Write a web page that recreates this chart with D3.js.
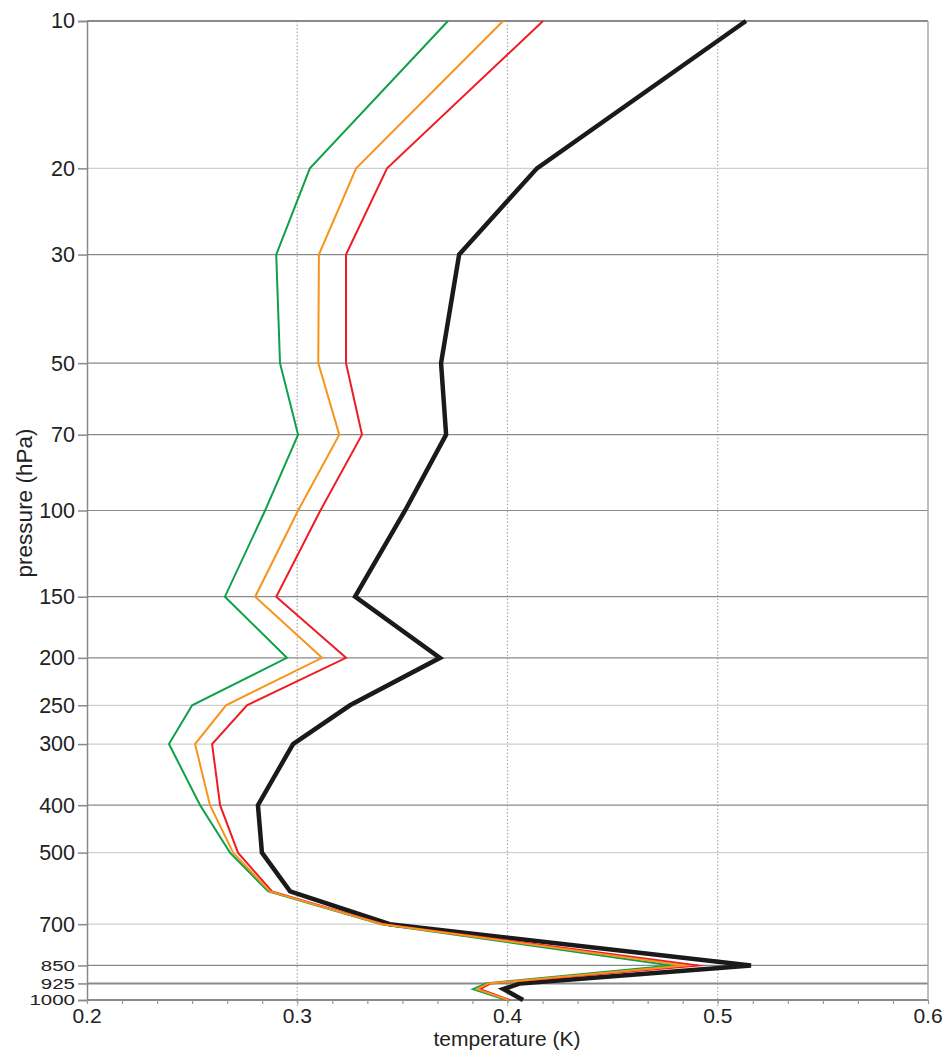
<!DOCTYPE html>
<html><head><meta charset="utf-8">
<script src="https://cdn.jsdelivr.net/npm/d3@7"></script>
<style>body{margin:0;background:#fff}svg{display:block}text{font-family:"Liberation Sans",Arial,sans-serif;fill:#222}</style>
</head><body><svg id="c" width="946" height="1051"></svg>
<script>
const levels = [10,20,30,50,70,100,150,200,250,300,400,500,600,700,850,925,950,1000];
const blackVals  = [0.5134,0.414,0.377,0.3684,0.3708,0.3513,0.3275,0.3679,0.3251,0.298,0.2813,0.2832,0.2966,0.344,0.5158,0.406,0.398,0.4074];
const redVals    = [0.4169,0.3427,0.3232,0.3232,0.3308,0.311,0.290,0.3232,0.2761,0.2595,0.2633,0.2718,0.288,0.341,0.4906,0.392,0.387,0.401];
const orangeVals = [0.3979,0.328,0.3103,0.310,0.320,0.3004,0.280,0.3118,0.2661,0.2514,0.2585,0.2695,0.287,0.3405,0.4844,0.391,0.3855,0.4005];
const greenVals  = [0.3717,0.306,0.290,0.2918,0.3004,0.2847,0.2656,0.2951,0.250,0.239,0.2538,0.268,0.2862,0.340,0.478,0.3898,0.3836,0.3995];
const yTickLabels = [10,20,30,50,70,100,150,200,250,300,400,500,700,850,925,1000];
const darkGrid = [10,30,50,70,100,150,200,400,850,925,1000];
const xTicks = [0.2,0.3,0.4,0.5,0.6];

const svg = d3.select("#c");
const L=87,R=928,T=21,B=1000;
const x = d3.scaleLinear().domain([0.2,0.6]).range([L,R]);
const y = d3.scaleLog().domain([10,1000]).range([T,B]);

svg.append("g").selectAll("line").data([0.3,0.4,0.5]).join("line")
  .attr("x1",d=>x(d)).attr("x2",d=>x(d)).attr("y1",T).attr("y2",B+8)
  .attr("stroke","#aaa").attr("stroke-width",1.2).attr("stroke-dasharray","1.5,2");

svg.append("g").selectAll("line").data(yTickLabels).join("line")
  .attr("x1",L).attr("x2",R).attr("y1",d=>y(d)).attr("y2",d=>y(d))
  .attr("stroke",d=>darkGrid.includes(d)?"#8a8a8a":"#cfcfcf")
  .attr("stroke-width",d=>(d===10||d===925||d===1000)?2:1.2);

svg.append("line").attr("x1",R).attr("x2",R).attr("y1",T).attr("y2",B)
  .attr("stroke","#aaa").attr("stroke-width",1.5);

const ya = d3.axisLeft(y).tickValues(yTickLabels).tickFormat(d3.format("d")).tickSize(9).tickPadding(3);
const gy = svg.append("g").attr("transform",`translate(${L},0)`).call(ya);
gy.select(".domain").attr("stroke","#888").attr("stroke-width",1.5);
gy.selectAll(".tick line").attr("stroke","#888").attr("stroke-width",1.5);
gy.selectAll(".tick text").attr("font-size",d=>(d>=850?20.5:21.5)).attr("fill","#222")
  .attr("transform",d=>(d>=850?"scale(1,0.74)":null))
  .style("font-family","Liberation Sans, Arial, sans-serif");

const minor = d3.range(0,25).map(i=>0.2+i/60);
const xa = d3.axisBottom(x).tickValues(minor).tickFormat("").tickSize(4);
const gx = svg.append("g").attr("transform",`translate(0,${B})`).call(xa);
gx.select(".domain").remove();
gx.selectAll(".tick line").attr("stroke","#999").attr("stroke-width",1.2);
svg.append("g").selectAll("text").data(xTicks).join("text")
  .attr("x",d=>x(d)).attr("y",1023).attr("text-anchor","middle").attr("font-size",21)
  .text(d=>d3.format(".1f")(d));

const line = vals => d3.line().x((d,i)=>x(vals[i])).y(d=>y(d))(levels);
const series = [
  {v:blackVals, c:"#1a1a1a", w:4.5},
  {v:greenVals, c:"#0ea04b", w:2},
  {v:redVals, c:"#ee1d25", w:2},
  {v:orangeVals, c:"#f7941d", w:2}
];
svg.append("g").selectAll("path").data(series).join("path")
  .attr("d",s=>line(s.v)).attr("fill","none").attr("stroke",s=>s.c)
  .attr("stroke-width",s=>s.w).attr("stroke-linejoin","miter").attr("stroke-miterlimit",10);

svg.append("text").attr("x",507).attr("y",1046).attr("text-anchor","middle").attr("font-size",21).text("temperature (K)");
svg.append("text").attr("transform","translate(32,503) rotate(-90)").attr("text-anchor","middle").attr("font-size",22.5).text("pressure (hPa)");
</script></body></html>
